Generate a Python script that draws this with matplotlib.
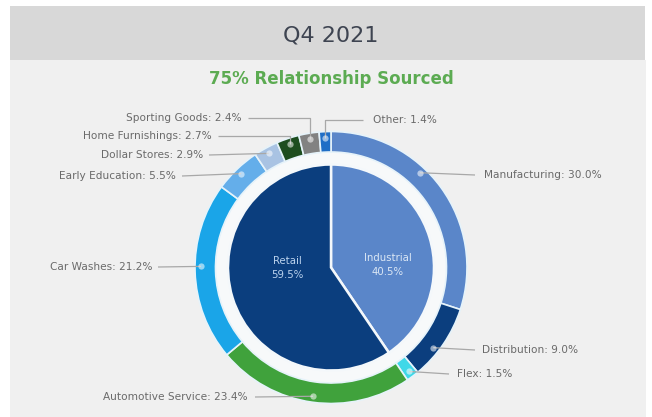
import matplotlib
matplotlib.use("Agg")
import matplotlib.pyplot as plt
from matplotlib.patches import Rectangle, Circle
import numpy as np

# ---- data ----
title = "Q4 2021"
subtitle = "75% Relationship Sourced"

groups = ["Industrial", "Retail"]
group_values = [40.5, 59.5]
group_colors = ["#5a86c9", "#0b3e7e"]

segments = ["Manufacturing", "Distribution", "Flex", "Automotive Service",
            "Car Washes", "Early Education", "Dollar Stores",
            "Home Furnishings", "Sporting Goods", "Other"]
segment_values = [30.0, 9.0, 1.5, 23.4, 21.2, 5.5, 2.9, 2.7, 2.4, 1.4]
segment_colors = ["#5a86c9", "#0b3e7e", "#3fd8e8", "#40a23c", "#1aa5e8",
                  "#64aeea", "#a9c3e3", "#1d4d1f", "#828282", "#1f6ec6"]

# ---- layout (pixel units, y measured from the top) ----
W, H = 652, 417
CX, CY = 331, 267.5
R_OUT, RING_W = 136, 20.5
R_IN = 103
R_MARK = 130

# label placement: (text x, text y, align, leader end x, elbow, anchor fraction)
label_layout = {
    "Manufacturing":      (484, 175, "left", 475, False, 0.40),
    "Distribution":       (482, 350, "left", 475, False, 0.62),
    "Flex":               (457, 374, "left", 449, False, 0.50),
    "Automotive Service": (248, 397, "right", 255, False, 0.50),
    "Car Washes":         (153, 267, "right", 158, False, 0.53),
    "Early Education":    (176, 176, "right", 182, False, 0.50),
    "Dollar Stores":      (203, 155, "right", 209, False, 0.50),
    "Home Furnishings":   (212, 136, "right", 218, True, 0.50),
    "Sporting Goods":     (242, 118, "right", 248, True, 0.50),
    "Other":              (373, 120, "left", 363, True, 0.50),
}
group_label_pos = {"Industrial": (388, 265), "Retail": (287, 268)}

def Y(y):
    return H - y

fig = plt.figure(figsize=(W / 100, H / 100), dpi=100)
fig.patch.set_facecolor("white")
ax = fig.add_axes([0, 0, 1, 1])
ax.set_xlim(0, W)
ax.set_ylim(0, H)
ax.axis("off")

# panel and header band
ax.add_patch(Rectangle((10, 0), 636, Y(60), facecolor="#f0f0f0", edgecolor="none", zorder=0))
ax.add_patch(Rectangle((10, Y(60)), 635, 54, facecolor="#d8d8d8", edgecolor="none", zorder=0))
ax.text(331, Y(35), title, ha="center", va="center", fontsize=16,
        color="#3e4451", family="DejaVu Sans")
ax.text(331, Y(79), subtitle, ha="center", va="center", fontsize=12,
        color="#5cab52", fontweight="bold", family="DejaVu Sans")

# light gap behind the pie
ax.add_patch(Circle((CX, Y(CY)), R_OUT - RING_W + 1, facecolor="#f7f9fa",
                    edgecolor="none", zorder=1))

outer, _ = ax.pie(segment_values, colors=segment_colors, radius=R_OUT,
                  center=(CX, Y(CY)), startangle=90, counterclock=False,
                  frame=True,
                  wedgeprops=dict(width=RING_W, edgecolor="#e6f3fa", linewidth=1.2))
inner, _ = ax.pie(group_values, colors=group_colors, radius=R_IN,
                  center=(CX, Y(CY)), startangle=90, counterclock=False,
                  frame=True,
                  wedgeprops=dict(edgecolor="#f4f8fb", linewidth=1.8))
ax.set_xlim(0, W)
ax.set_ylim(0, H)
ax.set_aspect("equal")
ax.axis("off")

label_color = "#6a6a6a"
line_color = "#a8a8a8"
for wedge, name, val in zip(outer, segments, segment_values):
    tx, ty, align, lx, elbow, frac = label_layout[name]
    t1, t2 = wedge.theta1, wedge.theta2
    ang = np.deg2rad(t2 - (t2 - t1) * frac)
    mx = CX + R_MARK * np.cos(ang)
    my = Y(CY) + R_MARK * np.sin(ang)
    if elbow:
        xs, ys = [mx, mx, lx], [my, Y(ty), Y(ty)]
    else:
        xs, ys = [mx, lx], [my, Y(ty)]
    ax.plot(xs, ys, color=line_color, lw=0.9, zorder=3, solid_capstyle="butt")
    ax.plot([mx], [my], "o", ms=4.5, color="white", alpha=0.55, mec="none", zorder=4)
    ax.text(tx, Y(ty), f"{name}: {val:.1f}%", ha=align, va="center",
            fontsize=7.6, color=label_color, family="DejaVu Sans", zorder=5)

for name, val, c in zip(groups, group_values, ["#dbe7f5", "#bcd3ee"]):
    x, y = group_label_pos[name]
    ax.text(x, Y(y), f"{name}\n{val:.1f}%", ha="center", va="center",
            fontsize=7.3, color=c, family="DejaVu Sans", linespacing=1.5, zorder=5)

fig.savefig("out.png", dpi=100, facecolor=fig.get_facecolor())
